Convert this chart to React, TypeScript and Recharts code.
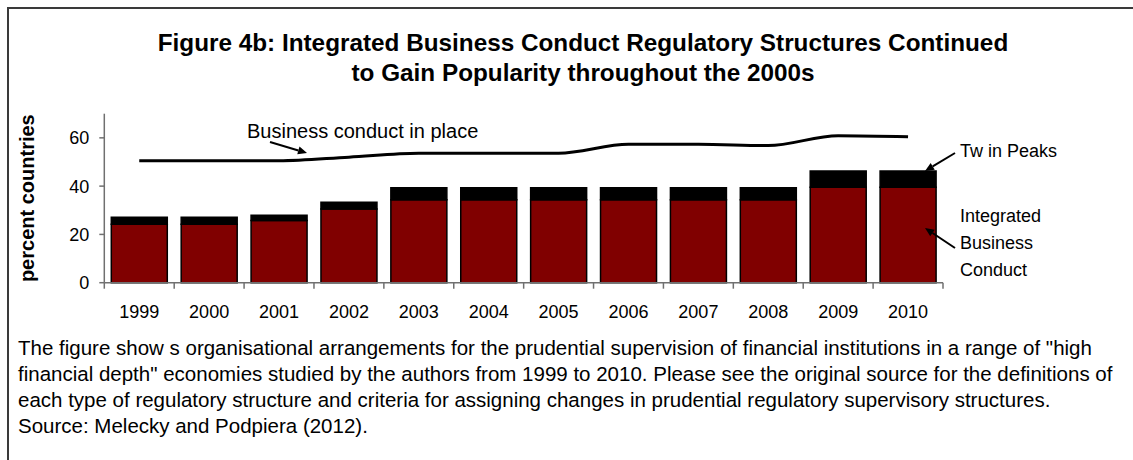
import { ComposedChart, Bar, Line, XAxis, YAxis } from 'recharts';

// values (percent of countries)
const years = ['1999', '2000', '2001', '2002', '2003', '2004', '2005', '2006', '2007', '2008', '2009', '2010'];
const integratedBusinessConduct = [24.2, 24.2, 25.8, 30.5, 34.4, 34.4, 34.4, 34.4, 34.4, 34.4, 39.5, 39.5];
const twinPeaks = [2.9, 2.9, 2.1, 2.8, 4.9, 4.9, 4.9, 4.9, 4.9, 4.9, 6.8, 6.8];
const businessConductInPlace = [50.5, 50.5, 50.5, 52.0, 53.6, 53.6, 53.6, 57.3, 57.3, 56.8, 60.9, 60.5];
const yTicks = [0, 20, 40, 60];

const data = years.map((year, i) => ({
  year,
  ibc: integratedBusinessConduct[i],
  tp: twinPeaks[i],
  inPlace: businessConductInPlace[i],
}));

const FONT = '"Liberation Sans", Arial, sans-serif';
const AXIS_GREY = '#707070';
const X_TICK_SIZE = 6;
const X_TICK_MARGIN = 17;

const footerLines = [
  'The figure show s organisational arrangements for the prudential supervision of financial institutions in a range of "high',
  'financial depth" economies studied by the authors from 1999 to 2010. Please see the original source for the definitions of',
  'each type of regulatory structure and criteria for assigning changes in prudential regulatory supervisory structures.',
  'Source: Melecky and Podpiera (2012).',
];

// year label plus Excel-style tick marks on the category boundaries
function YearTick(props: any) {
  const { x, y, payload, index } = props;
  const axisY = y - X_TICK_SIZE - X_TICK_MARGIN;
  const half = payload.offset || 0;
  const last = index === years.length - 1;
  return (
    <g>
      <line x1={x - half} y1={axisY} x2={x - half} y2={axisY + X_TICK_SIZE} stroke={AXIS_GREY} strokeWidth={1.5} />
      {last && <line x1={x + half} y1={axisY} x2={x + half} y2={axisY + X_TICK_SIZE} stroke={AXIS_GREY} strokeWidth={1.5} />}
      <text x={x} y={y} dy="0.71em" textAnchor="middle" fill="#000" fontSize={18} fontFamily={FONT}>
        {payload.value}
      </text>
    </g>
  );
}

function Arrow({ x1, y1, x2, y2 }: { x1: number; y1: number; y2: number; x2: number }) {
  const a = Math.atan2(y2 - y1, x2 - x1);
  const len = 9;
  const w = 4;
  const bx = x2 - len * Math.cos(a);
  const by = y2 - len * Math.sin(a);
  const px = -Math.sin(a) * w;
  const py = Math.cos(a) * w;
  return (
    <g>
      <line x1={x1} y1={y1} x2={bx} y2={by} stroke="#000" strokeWidth={2} />
      <polygon points={`${x2},${y2} ${bx + px},${by + py} ${bx - px},${by - py}`} fill="#000" />
    </g>
  );
}

export default function App() {
  return (
    <div style={{ position: 'absolute', left: 0, top: 0, width: 1133, height: 460, overflow: 'hidden', background: '#fff', fontFamily: FONT }}>
      {/* frame: only top and left edges show in the crop */}
      <div style={{ position: 'absolute', left: 7, top: 7, width: 1140, height: 470, borderTop: '2px solid #3a3a3a', borderLeft: '2px solid #3a3a3a' }} />

      <div style={{ position: 'absolute', left: 50, top: 28, width: 1066, textAlign: 'center', fontWeight: 'bold', fontSize: 24.3, lineHeight: '30px', color: '#000' }}>
        Figure 4b: Integrated Business Conduct Regulatory Structures Continued
        <br />
        to Gain Popularity throughout the 2000s
      </div>

      <div style={{ position: 'absolute', left: 0, top: 0 }}>
        <ComposedChart
          width={1133}
          height={340}
          data={data}
          margin={{ top: 113.7, right: 190, bottom: 27.3, left: 0 }}
          barCategoryGap="10%"
        >
          <XAxis
            dataKey="year"
            axisLine={{ stroke: AXIS_GREY, strokeWidth: 1.5 }}
            tickLine={false}
            tick={<YearTick />}
            tickSize={X_TICK_SIZE}
            tickMargin={X_TICK_MARGIN}
            interval={0}
            height={30}
          />
          <YAxis
            width={104.3}
            domain={[0, 70]}
            ticks={yTicks}
            axisLine={{ stroke: AXIS_GREY, strokeWidth: 1.5 }}
            tickLine={{ stroke: AXIS_GREY, strokeWidth: 1.5 }}
            tickSize={5}
            tickMargin={10}
            tick={{ fill: '#000', fontSize: 18, fontFamily: FONT }}
            label={{
              value: 'percent countries',
              angle: -90,
              position: 'insideLeft',
              offset: 27,
              style: { textAnchor: 'middle', fontWeight: 'bold', fontSize: 20, fill: '#000', fontFamily: FONT },
            }}
          />
          <Bar dataKey="ibc" stackId="s" fill="#800000" stroke="#000" strokeWidth={1.5} isAnimationActive={false} />
          <Bar dataKey="tp" stackId="s" fill="#000" stroke="#000" strokeWidth={1.5} isAnimationActive={false} />
          <Line dataKey="inPlace" type="monotone" stroke="#000" strokeWidth={3} dot={false} activeDot={false} isAnimationActive={false} />
        </ComposedChart>
      </div>

      <svg width={1133} height={460} style={{ position: 'absolute', left: 0, top: 0, pointerEvents: 'none' }}>
        <g fontFamily={FONT} fill="#000">
          <text x={247} y={138} fontSize={20}>Business conduct in place</text>
          <text x={960} y={157} fontSize={18}>Tw in Peaks</text>
          <text x={960} y={222} fontSize={18}>Integrated</text>
          <text x={960} y={249} fontSize={18}>Business</text>
          <text x={960} y={276} fontSize={18}>Conduct</text>
        </g>
        <Arrow x1={270} y1={142} x2={307} y2={153} />
        <Arrow x1={955} y1={153} x2={925} y2={171} />
        <Arrow x1={955} y1={248} x2={925} y2={228} />
      </svg>

      <div style={{ position: 'absolute', left: 18, top: 335, fontSize: 20.5, lineHeight: '26px', color: '#000', whiteSpace: 'nowrap' }}>
        {footerLines.map((l) => (
          <div key={l}>{l}</div>
        ))}
      </div>
    </div>
  );
}
